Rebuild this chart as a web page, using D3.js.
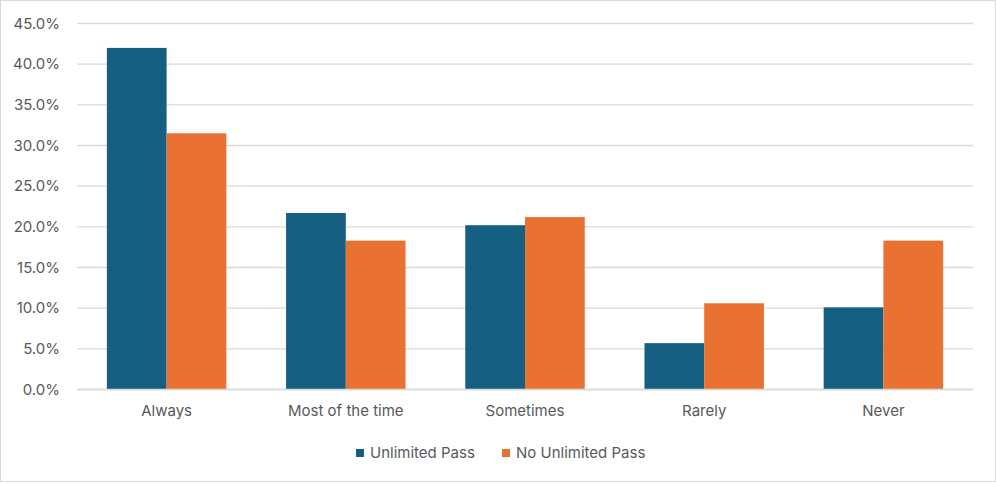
<!DOCTYPE html>
<html lang="en">
<head>
  <style>
    body { margin: 0; background: #fff; }
    text { font-family: Inter, "Liberation Sans", sans-serif; fill: #595959; }
    .grid line { stroke: #d9d9d9; stroke-width: 1.3px; }
  </style>
  <script src="https://d3js.org/d3.v7.min.js"></script>
</head>
<body>
  <script>
    const categories = ["Always", "Most of the time", "Sometimes", "Rarely", "Never"];
    const seriesNames = ["Unlimited Pass", "No Unlimited Pass"];
    const unlimitedPass = [42.0, 21.7, 20.2, 5.7, 10.1];
    const noUnlimitedPass = [31.5, 18.3, 21.2, 10.6, 18.3];
    const yTicks = [0, 5, 10, 15, 20, 25, 30, 35, 40, 45];
    const colors = ["#156082", "#e97132"];

    const W = 996, H = 484;
    const margin = { top: 23.5, right: 23, bottom: 94.5, left: 77 };
    const width = W - margin.left - margin.right;
    const height = H - margin.top - margin.bottom;

    const root = d3.select("body").append("svg")
      .attr("width", W)
      .attr("height", H);

    root.append("rect")
      .attr("x", 0.5).attr("y", 0.5)
      .attr("width", W - 1).attr("height", H - 3)
      .attr("fill", "#fff")
      .attr("stroke", "#d9d9d9");

    const svg = root.append("g")
      .attr("transform", `translate(${margin.left},${margin.top})`);

    const x0 = d3.scaleBand()
      .domain(categories)
      .range([0, width])
      .paddingInner(1 / 3)
      .paddingOuter(1 / 6);

    const x1 = d3.scaleBand()
      .domain(seriesNames)
      .range([0, x0.bandwidth()]);

    const y = d3.scaleLinear()
      .domain([0, 45])
      .range([height, 0]);

    // gridlines
    svg.append("g")
      .attr("class", "grid")
      .selectAll("line")
      .data(yTicks)
      .join("line")
      .attr("x1", 0)
      .attr("x2", width)
      .attr("y1", d => y(d))
      .attr("y2", d => y(d));

    // y axis labels
    svg.append("g")
      .call(d3.axisLeft(y).tickValues(yTicks).tickSize(0).tickPadding(17)
        .tickFormat(d => d.toFixed(1) + "%"))
      .call(g => g.select(".domain").remove())
      .selectAll("text")
      .style("font-size", "15px")
      .attr("fill", "#595959");

    const rows = categories.map((c, i) => ({
      category: c,
      values: [unlimitedPass[i], noUnlimitedPass[i]]
    }));

    svg.append("g")
      .selectAll("g")
      .data(rows)
      .join("g")
      .attr("transform", d => `translate(${x0(d.category)},0)`)
      .selectAll("rect")
      .data(d => d.values.map((v, j) => ({ key: seriesNames[j], value: v, j })))
      .join("rect")
      .attr("x", d => x1(d.key))
      .attr("width", x1.bandwidth())
      .attr("y", d => y(d.value))
      .attr("height", d => height - y(d.value))
      .attr("fill", d => colors[d.j]);

    // baseline
    svg.append("line")
      .attr("x1", 0).attr("x2", width)
      .attr("y1", height).attr("y2", height)
      .attr("stroke", "#d9d9d9").attr("stroke-width", 1.3);

    // x axis labels
    svg.append("g")
      .attr("transform", `translate(0,${height})`)
      .call(d3.axisBottom(x0).tickSize(0).tickPadding(16))
      .call(g => g.select(".domain").remove())
      .selectAll("text")
      .style("font-size", "15px")
      .attr("fill", "#595959");

    // legend
    const legendX = [356, 502];
    const legend = root.append("g")
      .selectAll("g")
      .data(seriesNames)
      .join("g")
      .attr("transform", (d, i) => `translate(${legendX[i]},449)`);

    legend.append("rect")
      .attr("width", 8).attr("height", 8)
      .attr("fill", (d, i) => colors[i]);

    legend.append("text")
      .attr("x", 14)
      .attr("y", 8.5)
      .style("font-size", "15px")
      .text(d => d);
  </script>
</body>
</html>
